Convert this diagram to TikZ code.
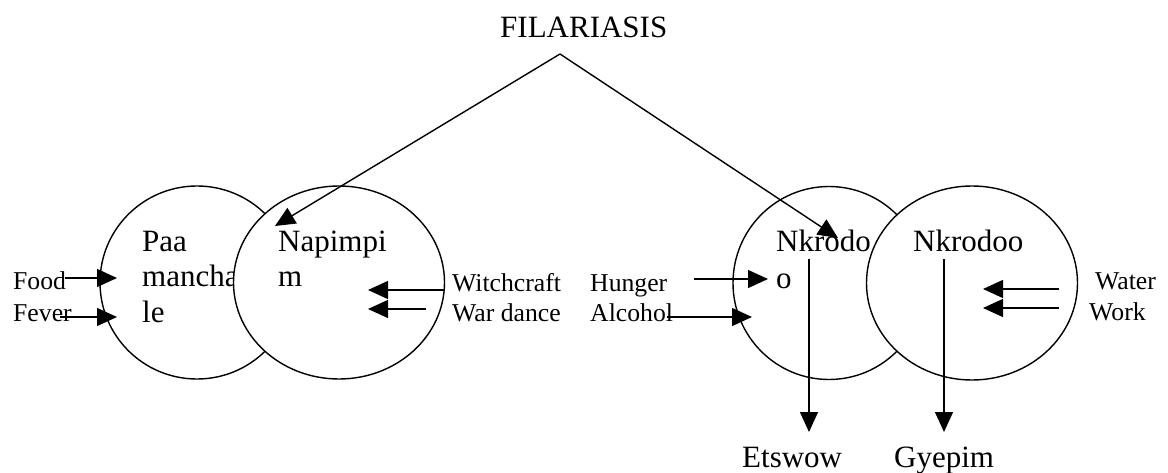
\documentclass[tikz,border=0pt]{standalone}
\usepackage{fontspec}
\setmainfont{Liberation Serif}
\usetikzlibrary{arrows.meta,shapes.geometric}
\begin{document}
\begin{tikzpicture}[x=1pt,y=-1pt,
  ring/.style={ellipse, draw, line width=1.4pt, fill=white, inner sep=0pt},
  big/.style={font=\fontsize{31}{36}\selectfont, inner sep=0pt, anchor=base west},
  small/.style={font=\fontsize{25.7}{31}\selectfont, inner sep=0pt, anchor=base west},
  arr/.style={line width=1.4pt, -{Triangle[length=20pt,width=18pt]}},
]
\useasboundingbox (0,0) rectangle (1168,473);
\fill[white] (0,0) rectangle (1168,473);

% title
\node[big] (fil) at (500,38) {FILARIASIS};
\coordinate (apex) at (560,54);

% left pair
\node[ring, minimum width=194pt, minimum height=193pt] (c1) at (197,282.5) {};
\node[big] (paa1) at (142,252) {Paa};
\node[big] (paa2) at (142,287) {mancha};
\node[big] (paa3) at (142,323) {le};
\node[ring, minimum width=211pt, minimum height=193pt] (c2) at (339,282.5) {};
\node[big] (nap1) at (278,252) {Napimpi};
\node[big] (nap2) at (278,287) {m};

% right pair
\node[ring, minimum width=192pt, minimum height=193pt] (c3) at (829,283) {};
\node[ring, minimum width=211pt, minimum height=194pt] (c4) at (972,283) {};
\node[big] (nk1) at (776,252) {Nkrodo};
\node[big] (nk2) at (776,288) {o};
\node[big] (nk3) at (913,252) {Nkrodoo};

% labels
\node[small] (food) at (13,290) {Food};
\node[small] (fever) at (13,321) {Fever};
\node[small] (witch) at (452,291) {Witchcraft};
\node[small] (war) at (452,322) {War dance};
\node[small] (hunger) at (590,291) {Hunger};
\node[small] (alcohol) at (590,322) {Alcohol};
\node[small] (water) at (1095,290) {Water};
\node[small] (work) at (1089,320) {Work};
\node[big] (ets) at (742,467) {Etswow};
\node[big] (gye) at (894,467) {Gyepim};

% arrow end points
\coordinate (foodS) at (65,278);   \coordinate (foodE) at (117,278);
\coordinate (feverS) at (60,317);  \coordinate (feverE) at (117,317);
\coordinate (witchS) at (444,290); \coordinate (witchE) at (368,290);
\coordinate (warS) at (426,309);   \coordinate (warE) at (368,309);
\coordinate (hungerS) at (694,279); \coordinate (hungerE) at (768,279);
\coordinate (alcS) at (667,317);   \coordinate (alcE) at (752,317);
\coordinate (waterS) at (1059,289); \coordinate (waterE) at (983,289);
\coordinate (workS) at (1059,308); \coordinate (workE) at (983,308);
\coordinate (etsS) at (809,259);   \coordinate (etsE) at (809,432);
\coordinate (gyeS) at (944,259);   \coordinate (gyeE) at (944,432);
\coordinate (napT) at (275,226);
\coordinate (nkT) at (838,238);

% connectors
\draw[arr] (apex) -- (napT);
\draw[arr] (apex) -- (nkT);
\draw[arr] (foodS) -- (foodE);
\draw[arr] (feverS) -- (feverE);
\draw[arr] (witchS) -- (witchE);
\draw[arr] (warS) -- (warE);
\draw[arr] (hungerS) -- (hungerE);
\draw[arr] (alcS) -- (alcE);
\draw[arr] (waterS) -- (waterE);
\draw[arr] (workS) -- (workE);
\draw[arr] (etsS) -- (etsE);
\draw[arr] (gyeS) -- (gyeE);
\end{tikzpicture}
\end{document}
